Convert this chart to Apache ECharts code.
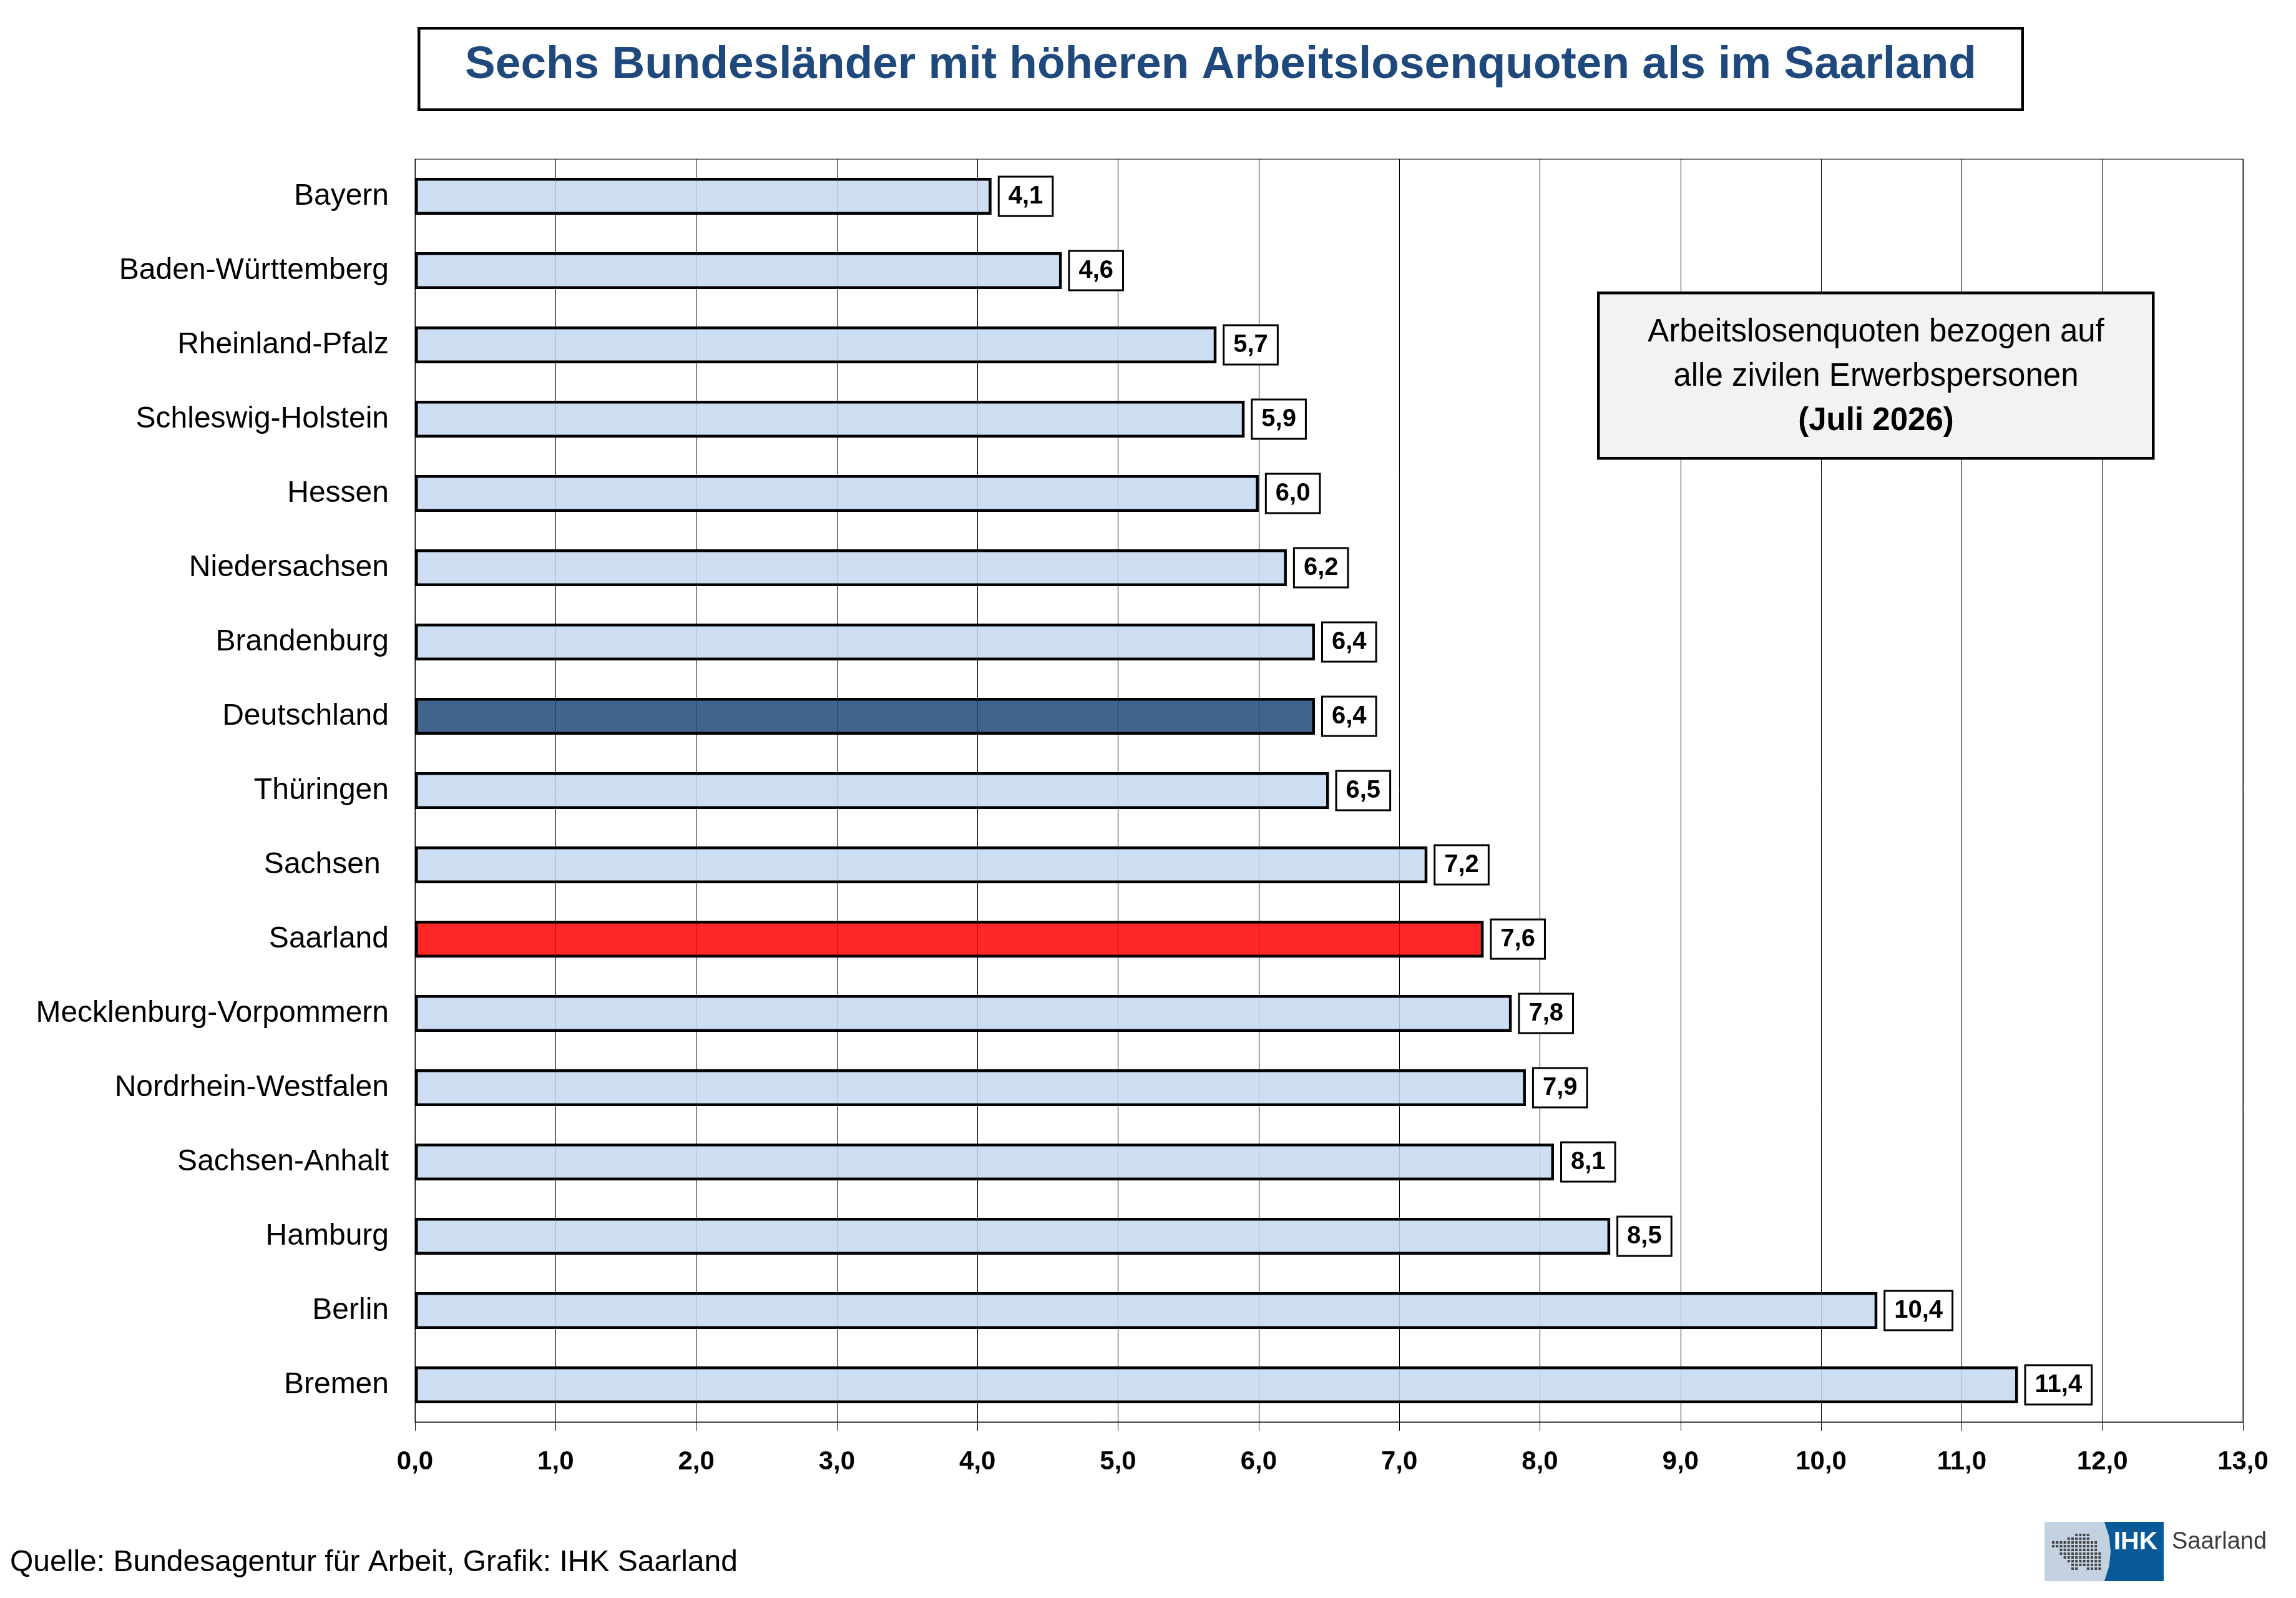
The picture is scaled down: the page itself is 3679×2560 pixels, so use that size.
<!DOCTYPE html>
<html>
<head>
<meta charset="utf-8">
<script src="https://cdn.jsdelivr.net/npm/echarts@6/dist/echarts.min.js"></script>
<style>
  html, body { margin: 0; padding: 0; background: #fff; }
  #chart { width: 3679px; height: 2560px; }
</style>
</head>
<body>
<div id="chart"></div>
<script>
// ---- data ----
const categories = [
  'Bayern', 'Baden-Württemberg', 'Rheinland-Pfalz', 'Schleswig-Holstein', 'Hessen',
  'Niedersachsen', 'Brandenburg', 'Deutschland', 'Thüringen', 'Sachsen ',
  'Saarland', 'Mecklenburg-Vorpommern', 'Nordrhein-Westfalen', 'Sachsen-Anhalt',
  'Hamburg', 'Berlin', 'Bremen'
];
const quoten = [4.1, 4.6, 5.7, 5.9, 6.0, 6.2, 6.4, 6.4, 6.5, 7.2, 7.6, 7.8, 7.9, 8.1, 8.5, 10.4, 11.4];
const axisTicks = [0, 1, 2, 3, 4, 5, 6, 7, 8, 9, 10, 11, 12, 13];
const titleText = 'Sechs Bundesländer mit höheren Arbeitslosenquoten als im Saarland';
const noteLines = ['Arbeitslosenquoten bezogen auf', 'alle zivilen Erwerbspersonen', '(Juli 2026)'];
const sourceText = 'Quelle: Bundesagentur für Arbeit, Grafik: IHK Saarland';

// ---- styling ----
const FONT = '"Liberation Sans", Arial, Helvetica, sans-serif';
const defaultFill = 'rgba(196,216,241,0.855)';
const specialFill = {
  'Deutschland': 'rgba(32,74,123,0.855)',
  'Saarland': 'rgba(255,4,4,0.855)'
};
const fmt = v => Number(v).toFixed(1).replace('.', ',');

const chart = echarts.init(document.getElementById('chart'), null, { renderer: 'canvas' });

// logo dots (decoration)
const dotRows = [[6,9],[4,9],[0,11],[0,11],[2,11],[2,12],[3,12],[4,12],[5,12],[5,6],[9,12]];
const dotRowY = [0,1,2,3,4,5,6,7,8,9,9];
const dots = [];
dotRows.forEach((r, i) => {
  for (let c = r[0]; c <= r[1]; c++) {
    dots.push({
      type: 'rect',
      shape: { x: 3288 + c * 6.2, y: 2457 + dotRowY[i] * 6, width: 4, height: 4 },
      style: { fill: '#454545' },
      z: 12
    });
  }
});

const option = {
  backgroundColor: '#ffffff',
  animation: false,
  textStyle: { fontFamily: FONT },
  grid: {
    left: 665, right: 85, top: 255, bottom: 282,
    show: true, borderColor: '#000', borderWidth: 1, backgroundColor: 'transparent'
  },
  xAxis: {
    type: 'value',
    min: axisTicks[0],
    max: axisTicks[axisTicks.length - 1],
    interval: 1,
    axisLine: { show: true, lineStyle: { color: '#000', width: 1 } },
    axisTick: { show: true, length: 14, lineStyle: { color: '#000', width: 1 } },
    axisLabel: {
      formatter: v => fmt(v),
      fontSize: 42, fontWeight: 'bold', color: '#000', margin: 43, fontFamily: FONT
    },
    splitLine: { show: true, lineStyle: { color: '#000', width: 1 } }
  },
  yAxis: {
    type: 'category',
    inverse: true,
    data: categories,
    axisLine: { show: true, lineStyle: { color: '#000', width: 1 } },
    axisTick: { show: false },
    axisLabel: { fontSize: 48, color: '#000', margin: 42, fontFamily: FONT }
  },
  series: [{
    type: 'bar',
    barWidth: 59,
    data: quoten.map((v, i) => ({
      value: v,
      itemStyle: { color: specialFill[categories[i]] || defaultFill }
    })),
    itemStyle: { borderColor: '#000', borderWidth: 4.5 },
    label: {
      show: true,
      position: 'right',
      distance: 13,
      formatter: p => fmt(p.value),
      fontSize: 40,
      fontWeight: 'bold',
      color: '#000',
      fontFamily: FONT,
      backgroundColor: '#fff',
      borderColor: '#000',
      borderWidth: 3,
      padding: [8, 14, 8, 14],
      lineHeight: 44
    }
  }],
  graphic: [
    // title box
    {
      type: 'rect',
      shape: { x: 671.25, y: 45.25, width: 2569.5, height: 130.5 },
      style: { fill: '#fff', stroke: '#000', lineWidth: 4.5 },
      z: 10
    },
    {
      type: 'text',
      x: 1956, y: 105,
      style: {
        text: titleText, fill: '#1F497D',
        font: 'bold 73px ' + FONT, align: 'center', verticalAlign: 'middle'
      },
      z: 11
    },
    // note box
    {
      type: 'rect',
      shape: { x: 2561.25, y: 469.25, width: 889, height: 265 },
      style: { fill: '#F2F2F2', stroke: '#000', lineWidth: 4.5 },
      z: 10
    },
    {
      type: 'text', x: 3006, y: 533,
      style: { text: noteLines[0], fill: '#000', font: '51px ' + FONT, align: 'center', verticalAlign: 'middle' },
      z: 11
    },
    {
      type: 'text', x: 3006, y: 604,
      style: { text: noteLines[1], fill: '#000', font: '51px ' + FONT, align: 'center', verticalAlign: 'middle' },
      z: 11
    },
    {
      type: 'text', x: 3006, y: 675,
      style: { text: noteLines[2], fill: '#000', font: 'bold 51px ' + FONT, align: 'center', verticalAlign: 'middle' },
      z: 11
    },
    // source
    {
      type: 'text', x: 16, y: 2504,
      style: { text: sourceText, fill: '#000', font: '48px ' + FONT, align: 'left', verticalAlign: 'middle' },
      z: 11
    },
    // logo
    {
      type: 'rect',
      shape: { x: 3276, y: 2438, width: 191, height: 95 },
      style: { fill: '#C3D1E1' },
      z: 10
    },
    {
      type: 'polygon',
      shape: { points: [[3372, 2438], [3379.5, 2461.6], [3382, 2485.5], [3379.5, 2509], [3372, 2533], [3467, 2533], [3467, 2438]] },
      style: { fill: '#075A97' },
      z: 11
    },
    {
      type: 'text', x: 3422, y: 2471,
      style: { text: 'IHK', fill: '#fff', font: 'bold 41px ' + FONT, align: 'center', verticalAlign: 'middle' },
      z: 12
    },
    {
      type: 'text', x: 3480, y: 2471,
      style: { text: 'Saarland', fill: '#3a3a3a', font: '38px ' + FONT, align: 'left', verticalAlign: 'middle' },
      z: 12
    }
  ].concat(dots)
};

chart.setOption(option);
</script>
</body>
</html>
